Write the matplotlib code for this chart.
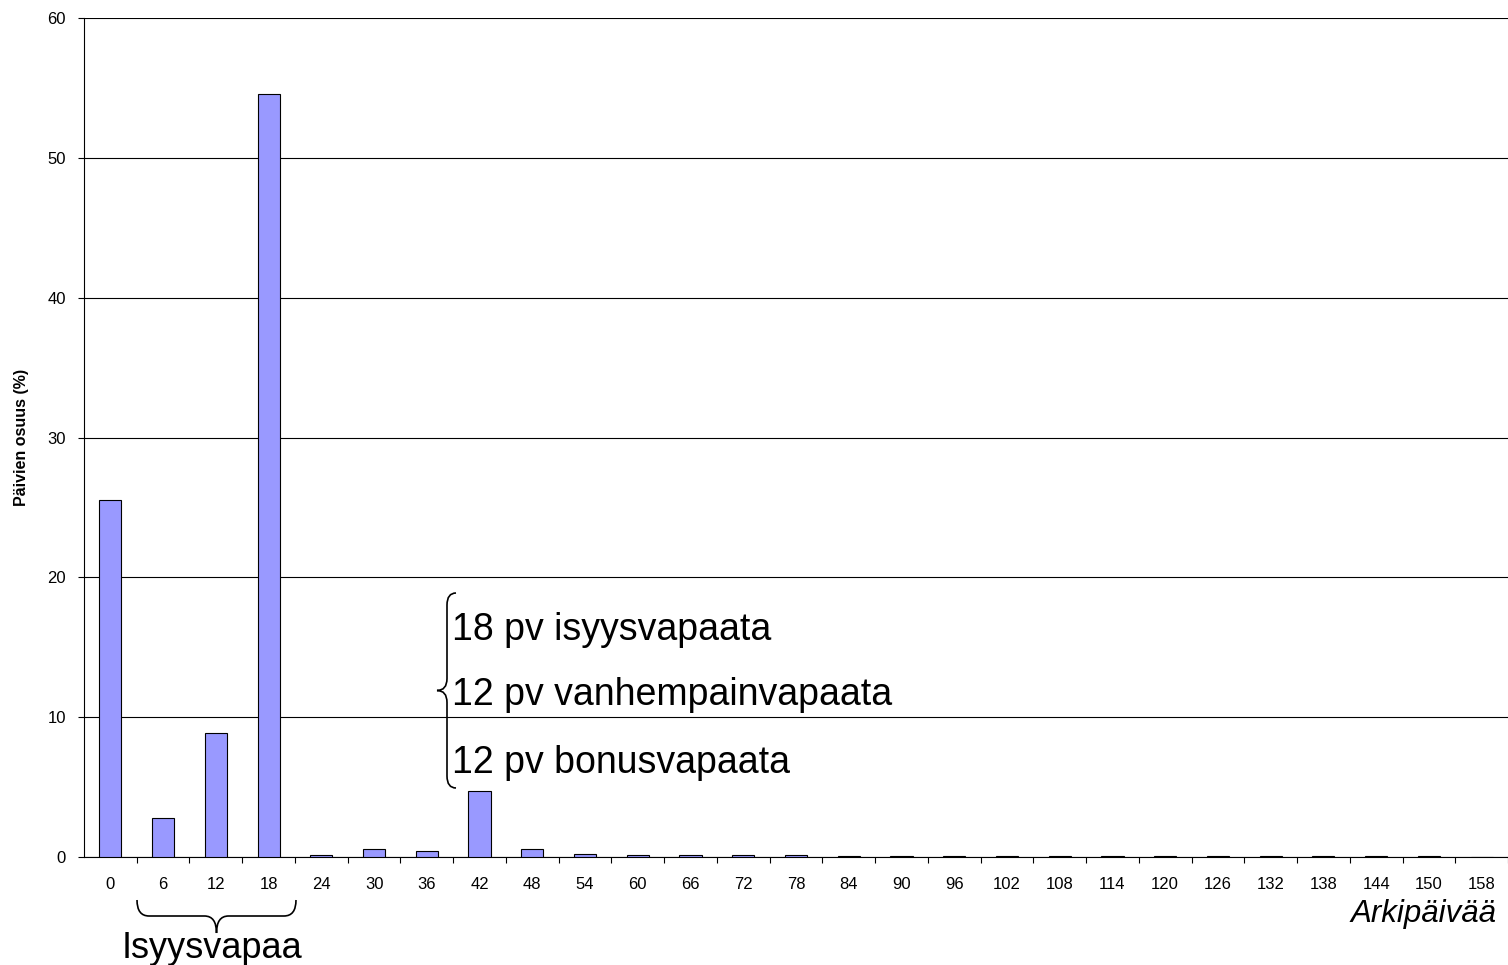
import matplotlib
matplotlib.use('Agg')
import matplotlib.pyplot as plt
from matplotlib.path import Path
from matplotlib.patches import PathPatch
import numpy as np

plt.rcParams['font.family'] = ['Liberation Sans', 'DejaVu Sans']

# ---- data ----
categories = [0, 6, 12, 18, 24, 30, 36, 42, 48, 54, 60, 66, 72, 78, 84, 90, 96,
              102, 108, 114, 120, 126, 132, 138, 144, 150, 158]
values = [25.5, 2.8, 8.9, 54.6, 0.15, 0.55, 0.45, 4.7, 0.55, 0.22, 0.13, 0.13,
          0.13, 0.13, 0.05, 0.05, 0.05, 0.05, 0.05, 0.05, 0.05, 0.05, 0.05,
          0.05, 0.05, 0.05, 0.0]
y_ticks = [0, 10, 20, 30, 40, 50, 60]
y_label = "Päivien osuus (%)"
x_label = "Arkipäivää"
group_label = "Isyysvapaa"
note_lines = ["18 pv isyysvapaata", "12 pv vanhempainvapaata", "12 pv bonusvapaata"]

W, H = 1508, 965
fig = plt.figure(figsize=(W / 100, H / 100), dpi=100)


def fx(x):
    return x / W


def fy(y):
    return 1 - y / H


ax = fig.add_axes([fx(84), fy(857), (1508 - 84) / W, (857 - 18) / H])
x = np.arange(len(categories))
ax.bar(x, values, width=0.42, color='#9999FF', edgecolor='black',
       linewidth=0.8, zorder=3)
ax.set_xlim(-0.5, len(categories) - 0.5)
ax.set_ylim(0, 60)
ax.set_yticks(y_ticks)
ax.yaxis.grid(True, color='black', linewidth=0.8, zorder=0)
ax.set_axisbelow(True)
ax.set_xticks(x)
ax.set_xticklabels([str(c) for c in categories])
ax.set_xticks(np.arange(0.5, len(categories) - 0.4, 1), minor=True)
ax.tick_params(axis='x', which='major', length=0, pad=14.5, labelsize=12)
ax.tick_params(axis='x', which='minor', length=4, width=0.8, direction='out')
ax.tick_params(axis='y', length=4, width=0.8, pad=9, labelsize=12)
for s in ['top', 'right']:
    ax.spines[s].set_visible(False)
for s in ['left', 'bottom']:
    ax.spines[s].set_color('black')
    ax.spines[s].set_linewidth(0.8)

# ---- braces ----
def hbrace(x0, x1, ytop, ymid, ytip, r=12):
    xc = (x0 + x1) / 2
    pts = [(x0, ytop), (x0, ymid), (x0 + r, ymid),
           (xc - r, ymid),
           (xc, ymid), (xc, ytip),
           (xc, ymid), (xc + r, ymid),
           (x1 - r, ymid),
           (x1, ymid), (x1, ytop)]
    codes = [Path.MOVETO, Path.CURVE3, Path.CURVE3, Path.LINETO,
             Path.CURVE3, Path.CURVE3, Path.CURVE3, Path.CURVE3,
             Path.LINETO, Path.CURVE3, Path.CURVE3]
    pts = [(fx(a), fy(b)) for a, b in pts]
    return PathPatch(Path(pts, codes), transform=fig.transFigure,
                     fill=False, lw=1.2, color='black')


def vbrace(y0, y1, xend, xmid, xtip, r=12):
    yc = (y0 + y1) / 2
    pts = [(xend, y0), (xmid, y0), (xmid, y0 + r),
           (xmid, yc - r),
           (xmid, yc), (xtip, yc),
           (xmid, yc), (xmid, yc + r),
           (xmid, y1 - r),
           (xmid, y1), (xend, y1)]
    codes = [Path.MOVETO, Path.CURVE3, Path.CURVE3, Path.LINETO,
             Path.CURVE3, Path.CURVE3, Path.CURVE3, Path.CURVE3,
             Path.LINETO, Path.CURVE3, Path.CURVE3]
    pts = [(fx(a), fy(b)) for a, b in pts]
    return PathPatch(Path(pts, codes), transform=fig.transFigure,
                     fill=False, lw=1.2, color='black')


fig.patches.append(hbrace(137, 296, 900, 916, 933))
fig.patches.append(vbrace(593, 788, 456, 447, 437))

# ---- texts ----
fig.text(fx(22), fy(437), y_label, rotation=90, fontsize=11.5,
         fontweight='bold', ha='center', va='center')
fig.text(fx(1497), fy(922), x_label, fontsize=22.5, style='italic',
         ha='right', va='baseline')
fig.text(fx(212), fy(958), group_label, fontsize=26, ha='center',
         va='baseline')
for txt, yb in zip(note_lines, [640, 705, 773]):
    fig.text(fx(452), fy(yb), txt, fontsize=27, ha='left', va='baseline')

fig.savefig('out.png', dpi=100)
